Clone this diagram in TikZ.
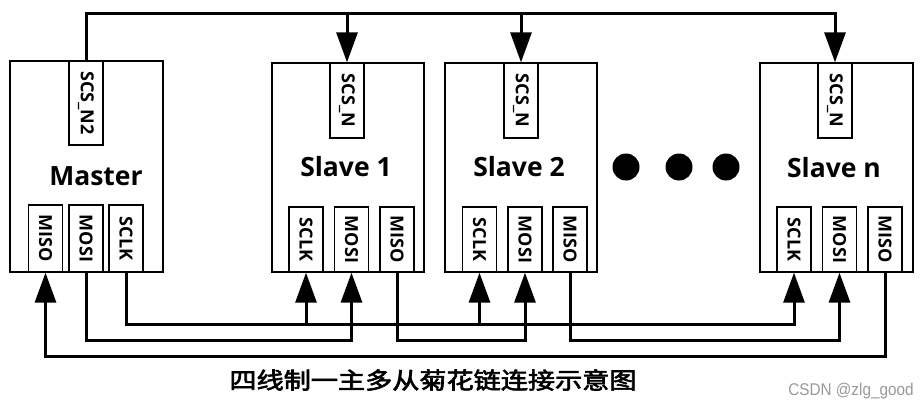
\documentclass[tikz,border=0pt]{standalone}
\usepackage{fontspec}
\usepackage{graphicx}
\setmainfont{Open Sans}
\newfontfamily\cjk{Noto Sans CJK SC}[FakeBold=2.5]
\newfontfamily\wmfont{Liberation Sans}
\usetikzlibrary{arrows.meta}
\tikzset{
  chip/.style={draw, line width=1.3pt, inner sep=0pt, minimum width=152pt},
  pin/.style={draw, line width=1.3pt, inner sep=0pt, minimum width=34pt, fill=white,
    font=\fontsize{18}{18}\selectfont\bfseries},
  title/.style={font=\fontsize{26.5}{26.5}\selectfont\bfseries},
  wire/.style={line width=3pt},
  arr/.style={-{Triangle[width=21pt,length=30pt]}},
  dot/.style={circle, fill=black, minimum size=27pt, inner sep=0pt}
}
\newcommand{\vtxt}[1]{\rotatebox[origin=c]{-90}{#1}}
\begin{document}
\begin{tikzpicture}[x=1pt,y=-1pt]
\useasboundingbox (0,0) rectangle (922,407);
% chips
\node[chip, minimum width=153pt, minimum height=211pt] (master) at (86.5,166.5) {};
\node[chip, minimum height=209pt] (s1) at (348,167.5) {};
\node[chip, minimum height=209pt] (s2) at (521,167.5) {};
\node[chip, minimum width=153pt, minimum height=209pt] (sn) at (836.5,167.5) {};
% titles
\node[title] (tm) at (96,176) {Master};
\node[title] (t1) at (346,167) {Slave 1};
\node[title] (t2) at (519,167) {Slave 2};
\node[title] (tn) at (834,168) {Slave n};
% SCS pins
\node[pin, minimum height=84pt] (mscs) at (86,103) {\vtxt{SCS\_N2}};
\node[pin, minimum height=75pt] (s1scs) at (347,100.5) {\vtxt{SCS\_N}};
\node[pin, minimum height=75pt] (s2scs) at (521,100.5) {\vtxt{SCS\_N}};
\node[pin, minimum height=75pt] (snscs) at (835,100.5) {\vtxt{SCS\_N}};
% bottom pins master
\node[pin, minimum height=67pt] (mmiso) at (45.5,238.5) {\vtxt{MISO}};
\node[pin, minimum height=67pt] (mmosi) at (86,238.5) {\vtxt{MOSI}};
\node[pin, minimum height=67pt] (msclk) at (126,238.5) {\vtxt{SCLK}};
% slave 1
\node[pin, minimum height=65pt] (s1sclk) at (306,239.5) {\vtxt{SCLK}};
\node[pin, minimum height=65pt] (s1mosi) at (351.5,239.5) {\vtxt{MOSI}};
\node[pin, minimum height=65pt] (s1miso) at (397,239.5) {\vtxt{MISO}};
% slave 2
\node[pin, minimum height=65pt] (s2sclk) at (479.5,239.5) {\vtxt{SCLK}};
\node[pin, minimum height=65pt] (s2mosi) at (525,239.5) {\vtxt{MOSI}};
\node[pin, minimum height=65pt] (s2miso) at (570,239.5) {\vtxt{MISO}};
% slave n
\node[pin, minimum height=65pt] (snsclk) at (794,239.5) {\vtxt{SCLK}};
\node[pin, minimum height=65pt] (snmosi) at (839.5,239.5) {\vtxt{MOSI}};
\node[pin, minimum height=65pt] (snmiso) at (885,239.5) {\vtxt{MISO}};
% dots
\node[dot] (d1) at (626,167) {};
\node[dot] (d2) at (679,167) {};
\node[dot] (d3) at (726,167) {};
% bus levels
\coordinate (busT) at (0,13);
\coordinate (busA) at (0,324);
\coordinate (busB) at (0,340);
\coordinate (busC) at (0,356);
% chip select
\draw[wire,arr] (mscs.north) |- (busT -| snscs.north) -- (snscs.north);
\draw[wire,arr] (s1scs.north |- busT) -- (s1scs.north);
\draw[wire,arr] (s2scs.north |- busT) -- (s2scs.north);
% SCLK
\draw[wire,arr] (msclk.south) |- (busA -| snsclk.south) -- (snsclk.south);
\draw[wire,arr] (s1sclk.south |- busA) -- (s1sclk.south);
\draw[wire,arr] (s2sclk.south |- busA) -- (s2sclk.south);
% daisy chain
\draw[wire,arr] (mmosi.south) |- (busB -| s1mosi.south) -- (s1mosi.south);
\draw[wire,arr] (s1miso.south) |- (busB -| s2mosi.south) -- (s2mosi.south);
\draw[wire,arr] (s2miso.south) |- (busB -| snmosi.south) -- (snmosi.south);
% MISO return
\draw[wire,arr] (snmiso.south) |- (busC -| mmiso.south) -- (mmiso.south);
% caption
\node[font=\cjk\fontsize{23}{23}\selectfont, xscale=1.18, transform shape] (cap) at (433,380) {四线制一主多从菊花链连接示意图};
\node[font=\wmfont\fontsize{17}{17}\selectfont, text=black!40, xscale=0.9, transform shape] (wm) at (851,391) {CSDN @zlg\_good};
\end{tikzpicture}
\end{document}
